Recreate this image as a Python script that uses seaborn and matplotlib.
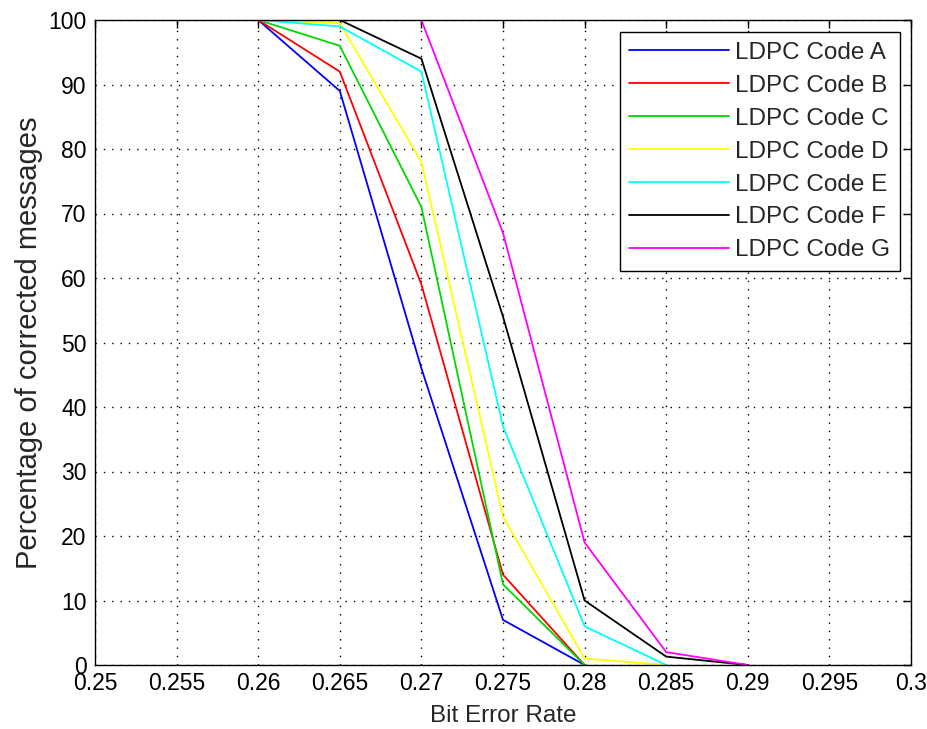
"""
LDPC codes: percentage of corrected messages vs. bit error rate
"""
import matplotlib
matplotlib.use("Agg")
import matplotlib.pyplot as plt
import seaborn as sns
import pandas as pd


BER = [0.26, 0.265, 0.27, 0.275, 0.28, 0.285, 0.29]

CODE_A = [100, 89, 46, 7, 0, None, None]
CODE_B = [100, 92, 59, 14, 0, None, None]
CODE_C = [100, 96, 71, 12.5, 0, None, None]
CODE_D = [100, 99.5, 78, 23, 1, 0, None]
CODE_E = [100, 99, 92, 37, 6, 0, None]
CODE_F = [100, 100, 94, 54, 10, 1.3, 0]
CODE_G = [None, None, 100, 67, 19, 2, 0]

CODE_NAMES = [f"LDPC Code {c}" for c in "ABCDEFG"]
CODE_VALUES = [CODE_A, CODE_B, CODE_C, CODE_D, CODE_E, CODE_F, CODE_G]

CODE_COLORS = {
    "LDPC Code A": "#0000ff",
    "LDPC Code B": "#ff0000",
    "LDPC Code C": "#00d800",
    "LDPC Code D": "#ffff00",
    "LDPC Code E": "#00ffff",
    "LDPC Code F": "#000000",
    "LDPC Code G": "#ff00ff",
}

X_TICKS = [0.25, 0.255, 0.26, 0.265, 0.27, 0.275, 0.28, 0.285, 0.29, 0.295, 0.3]
X_TICK_LABELS = ["0.25", "0.255", "0.26", "0.265", "0.27", "0.275",
                 "0.28", "0.285", "0.29", "0.295", "0.3"]
Y_TICKS = list(range(0, 101, 10))


# long-form table for seaborn
rows = []
for name, values in zip(CODE_NAMES, CODE_VALUES):
    for ber, pct in zip(BER, values):
        if pct is not None:
            rows.append({"ber": ber, "pct": pct, "code": name})
data = pd.DataFrame(rows)

sns.set_style("white")
plt.rcParams["font.family"] = ["Liberation Sans", "DejaVu Sans"]

fig = plt.figure(figsize=(9.28, 7.29), dpi=100)
ax = fig.add_axes([95 / 928, 64 / 729, 816 / 928, 645 / 729])

sns.lineplot(
    data=data,
    x="ber",
    y="pct",
    hue="code",
    palette=CODE_COLORS,
    estimator=None,
    sort=False,
    linewidth=1.3,
    ax=ax,
)

ax.set_xlim(0.25, 0.3)
ax.set_ylim(0, 100)
ax.set_xticks(X_TICKS)
ax.set_xticklabels(X_TICK_LABELS)
ax.set_yticks(Y_TICKS)
ax.tick_params(direction="in", top=True, right=True, length=6, width=1,
               labelsize=16.5, pad=5, colors="black")
ax.tick_params(axis="y", pad=6)
ax.grid(True, linestyle=(0, (1, 5)), color="black", linewidth=1)
for spine in ax.spines.values():
    spine.set_color("black")
    spine.set_linewidth(1)

ax.set_xlabel("Bit Error Rate", fontsize=17.5, labelpad=7)
ax.set_ylabel("Percentage of corrected messages", fontsize=21, labelpad=4)

legend = ax.legend(
    loc="upper right",
    bbox_to_anchor=(1 - 11 / 816, 1 - 12 / 645),
    borderaxespad=0,
    fontsize=17.5,
    handlelength=4.1,
    handletextpad=0.25,
    labelspacing=0.45,
    fancybox=False,
    framealpha=1,
    edgecolor="black",
    title=None,
)
legend.get_frame().set_linewidth(1)

fig.savefig("out.png", dpi=100)
